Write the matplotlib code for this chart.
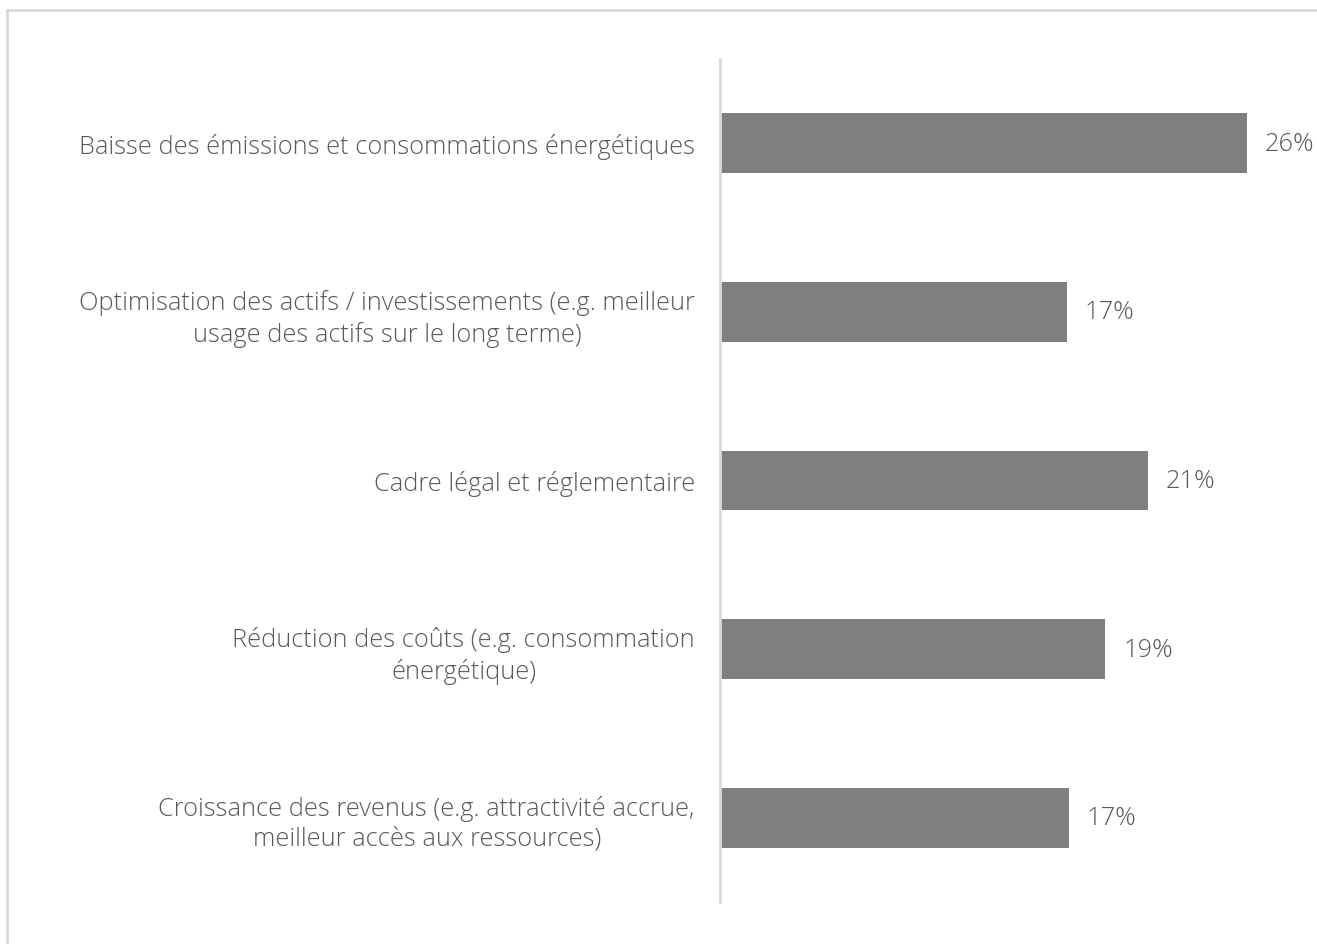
import numpy as np
import matplotlib.pyplot as plt
from matplotlib.lines import Line2D

# categories top -> bottom
labels = [
    "Baisse des émissions et consommations énergétiques",
    "Optimisation des actifs / investissements (e.g. meilleur\nusage des actifs sur le long terme)",
    "Cadre légal et réglementaire",
    "Réduction des coûts (e.g. consommation\nénergétique)",
    "Croissance des revenus (e.g. attractivité accrue,\nmeilleur accès aux ressources)",
]
values = [26.0, 17.1, 21.1, 19.0, 17.2]
value_text = ["26%", "17%", "21%", "19%", "17%"]

W, H = 1317, 945
fig = plt.figure(figsize=(W / 100, H / 100), dpi=100)
plt.rcParams['font.family'] = ['Open Sans', 'DejaVu Sans']
txt_col = '#595959'

# light frame (only top and left edges are inside the picture)
fx, fy = 6.5 / W, 1 - 11 / H
fig.add_artist(Line2D([fx, fx, 1.0], [0.0, fy, fy], transform=fig.transFigure,
                      color='#d9d9d9', linewidth=2))

ax = fig.add_axes([720 / W, 42 / H, 567.5 / W, 843 / H])
y = np.arange(len(values))
ax.barh(y, values, height=0.355, color='#7f7f7f', zorder=2)
ax.set_ylim(len(values) - 0.5, -0.5)
ax.set_xlim(0, 28)

for s in ['top', 'right', 'bottom']:
    ax.spines[s].set_visible(False)
ax.spines['left'].set_color('#d9d9d9')
ax.spines['left'].set_linewidth(2)
ax.set_xticks([])
ax.set_yticks(y)
ax.set_yticklabels(labels, fontsize=18.3, color=txt_col, fontweight='light',
                   multialignment='center', linespacing=1.3)
ax.tick_params(axis='y', length=0, pad=18)

for yi, v, t in zip(y, values, value_text):
    ax.annotate(t, (v, yi), xytext=(18, 0), textcoords='offset pixels',
                va='center', ha='left', fontsize=18.3, fontweight='light', color=txt_col)

fig.savefig('out.png', dpi=100)
